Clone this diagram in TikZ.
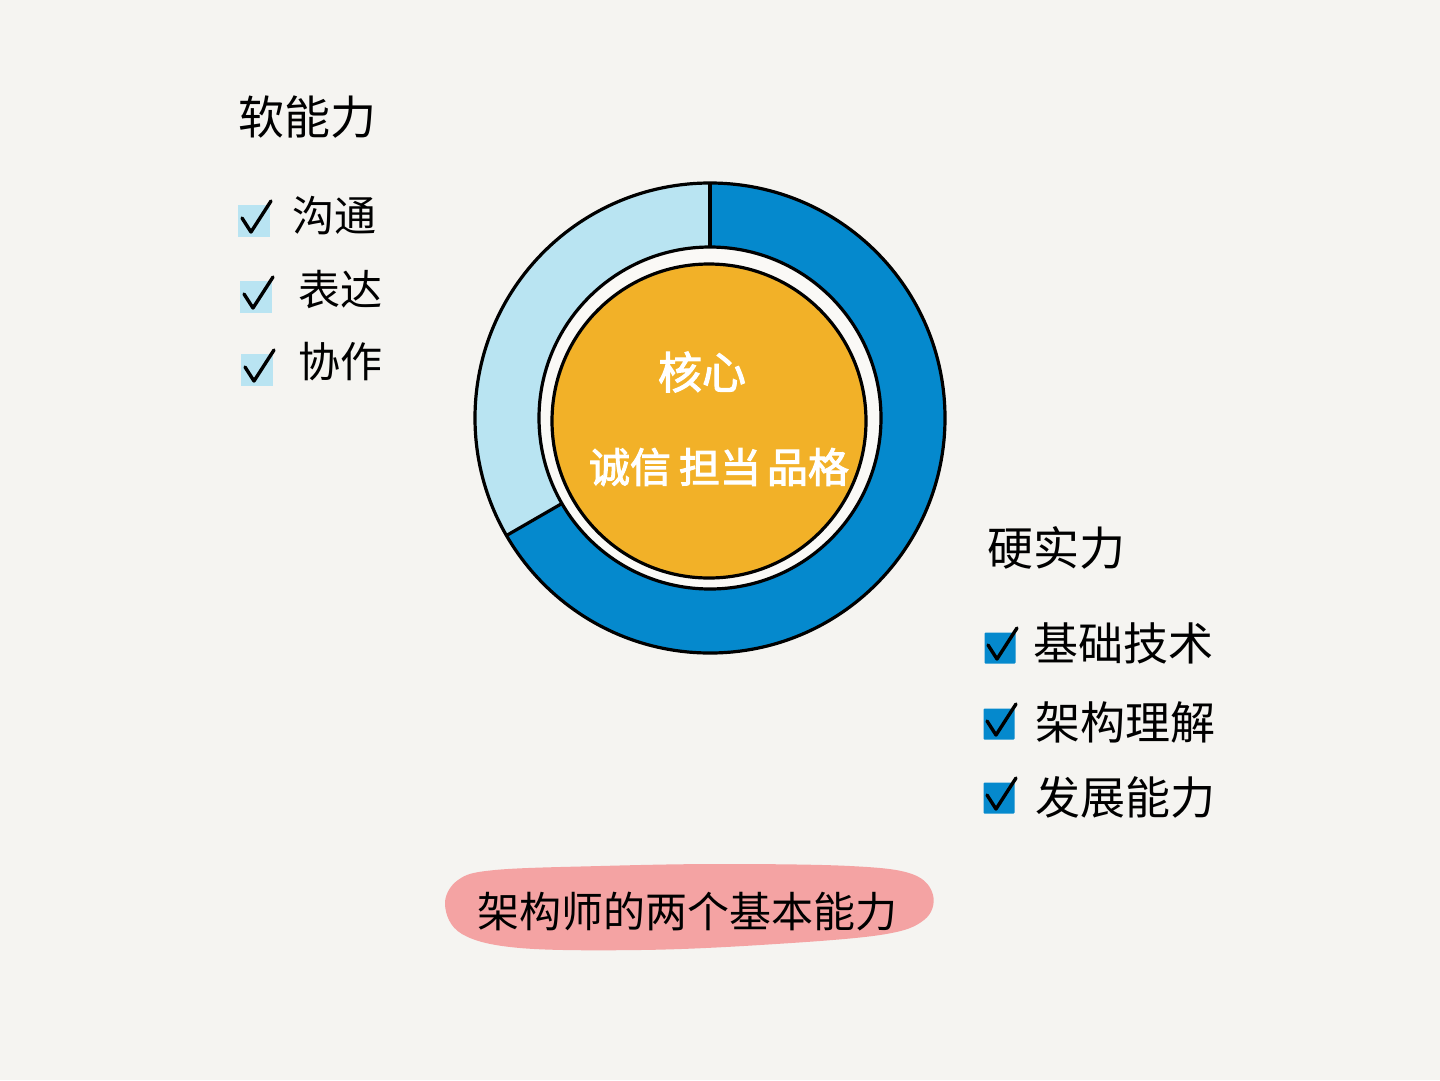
\documentclass[tikz,border=0pt]{standalone}
\usepackage{fontspec}
\newfontfamily\cjk{Noto Sans CJK SC}
\newfontfamily\cjkb{Noto Sans CJK SC}[FakeBold=2.5]
\definecolor{bg}{HTML}{F5F4F1}
\definecolor{darkblue}{HTML}{0589CD}
\definecolor{lightblue}{HTML}{B9E4F2}
\definecolor{coreorange}{HTML}{F2B128}
\definecolor{gapwhite}{HTML}{FAF9F6}
\definecolor{pinkbar}{HTML}{F4A3A3}
\tikzset{
  title/.style={font=\cjk\fontsize{46}{50}\selectfont, text=black, inner sep=0pt},
  item/.style={font=\cjk\fontsize{42}{46}\selectfont, text=black, inner sep=0pt, anchor=west},
  coretext/.style={font=\cjkb\fontsize{44}{48}\selectfont, text=white, inner sep=0pt},
  lbox/.style={fill=lightblue, minimum size=32pt, inner sep=0pt},
  dbox/.style={fill=darkblue, minimum size=31pt, inner sep=0pt, rounded corners=1pt},
  check/.style={draw=black, line width=3.4pt, line cap=round, line join=round},
  ringline/.style={draw=black, line width=3.2pt},
}
\begin{document}
\begin{tikzpicture}[x=1pt,y=-1pt]
\useasboundingbox[fill=bg] (0,0) rectangle (1440,1080);

% donut
\begin{scope}[shift={(710,418)}, y=1pt]
  \fill[lightblue] (90:235) arc[start angle=90,end angle=210,radius=235] -- (210:171) arc[start angle=210,end angle=90,radius=171] -- cycle;
  \fill[darkblue] (210:235) arc[start angle=210,end angle=450,radius=235] -- (90:171) arc[start angle=90,end angle=-150,radius=171] -- cycle;
  \fill[gapwhite] (0,0) circle[radius=171];
  \draw[ringline] (0,0) circle[radius=235];
  \draw[ringline] (0,0) circle[radius=171];
  \draw[ringline] (90:171) -- (90:235);
  \draw[ringline] (210:171) -- (210:235);
  \node[circle, fill=coreorange, draw=black, line width=3.2pt, minimum size=314pt, inner sep=0pt] (core) at (-1,-3) {};
\end{scope}
\node[coretext] (k1) at (702,372) {核心};
\node[coretext, font=\cjkb\fontsize{41}{44}\selectfont] (k2) at (719,467) {诚信\hspace{8pt}担当\hspace{6pt}品格};

% soft skills
\node[title] (soft) at (307,117) {软能力};
\node[lbox] (c1) at (254,221) {};
\node[lbox] (c2) at (256,297) {};
\node[lbox] (c3) at (257,370) {};
\node[item] (t1) at (292,216) {沟通};
\node[item] (t2) at (298,290) {表达};
\node[item] (t3) at (298,362) {协作};

% hard skills
\node[title] (hard) at (1056,548) {硬实力};
\node[dbox] (d1) at (1000,648) {};
\node[dbox] (d2) at (999,724) {};
\node[dbox] (d3) at (999,798) {};
\node[item, font=\cjk\fontsize{45}{48}\selectfont] (h1) at (1033,643) {基础技术};
\node[item, font=\cjk\fontsize{45}{48}\selectfont] (h2) at (1035,722) {架构理解};
\node[item, font=\cjk\fontsize{45}{48}\selectfont] (h3) at (1035,797) {发展能力};

% check marks
\foreach \b in {c1,c2,c3,d1,d2,d3}{
  \draw[check] ([shift={(-12,-3)}]\b.center) -- ([shift={(-3,11)}]\b.center) -- ([shift={(17,-20)}]\b.center);
}

% pink banner
\fill[pinkbar] plot[smooth cycle, tension=0.6] coordinates {(445,905) (458,880) (495,870) (600,866) (720,864) (850,866) (912,874) (933,895) (924,920) (880,935) (760,945) (640,950) (520,948) (462,934)};
\node[font=\cjk\fontsize{42}{44}\selectfont, inner sep=0pt] (banner) at (687,912) {架构师的两个基本能力};
\end{tikzpicture}
\end{document}
